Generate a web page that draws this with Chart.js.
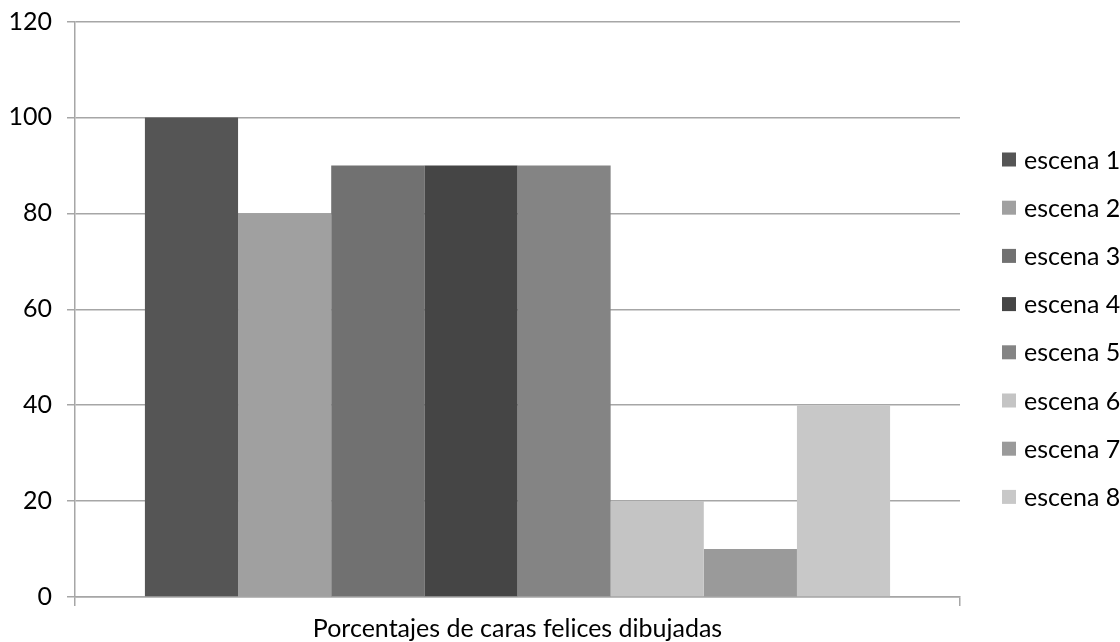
<!DOCTYPE html>
<html>
<head>
<meta charset="utf-8">
<script src="https://cdn.jsdelivr.net/npm/chart.js@4"></script>
<style>
  html, body { margin: 0; padding: 0; background: #ffffff; }
  #wrap { width: 1120px; height: 642px; position: relative; }
</style>
</head>
<body>
<div id="wrap"><canvas id="chart" width="1120" height="642"></canvas></div>
<script>
// Data
const categories = ['Porcentajes de caras felices dibujadas'];
const seriesNames = ['escena 1', 'escena 2', 'escena 3', 'escena 4', 'escena 5', 'escena 6', 'escena 7', 'escena 8'];
const seriesValues = [100, 80, 90, 90, 90, 20, 10, 40];
const seriesColors = ['#555555', '#a0a0a0', '#717171', '#454545', '#848484', '#c4c4c4', '#9a9a9a', '#c8c8c8'];
const yTicks = [0, 20, 40, 60, 80, 100, 120];

const FONT = 'Lato, "Open Sans", sans-serif';
const FONT_SIZE = 25;
const GRID = '#a6a6a6';

const datasets = seriesNames.map((name, i) => ({
  label: name,
  data: [seriesValues[i]],
  backgroundColor: seriesColors[i],
  borderWidth: 0,
  categoryPercentage: 0.842,
  barPercentage: 1.0
}));

// Legend drawn at the right of the plot, one row per scene
const sideLegend = {
  id: 'sideLegend',
  afterDraw(chart) {
    const ctx = chart.ctx;
    ctx.save();
    ctx.font = FONT_SIZE + 'px ' + FONT;
    ctx.textBaseline = 'middle';
    ctx.textAlign = 'left';
    chart.data.datasets.forEach((ds, i) => {
      const cy = 159.5 + i * 48.2;
      ctx.fillStyle = ds.backgroundColor;
      ctx.fillRect(1002, cy - 7, 14, 14);
      ctx.fillStyle = '#000000';
      ctx.fillText(ds.label, 1024, cy + 1);
    });
    ctx.restore();
  }
};

new Chart(document.getElementById('chart'), {
  type: 'bar',
  data: { labels: categories, datasets },
  plugins: [sideLegend],
  options: {
    responsive: false,
    animation: false,
    layout: { padding: { left: 0, right: 160, top: 21.5, bottom: 0 } },
    plugins: {
      legend: { display: false },
      tooltip: { enabled: false }
    },
    scales: {
      x: {
        offset: true,
        grid: {
          display: true,
          offset: true,
          drawOnChartArea: false,
          drawTicks: true,
          tickLength: 9,
          color: GRID,
          lineWidth: 1.5
        },
        border: { display: true, color: GRID, width: 1.5 },
        ticks: {
          color: '#000000',
          font: { family: FONT, size: FONT_SIZE },
          padding: 8,
          maxRotation: 0
        },
        afterFit(scale) { scale.height = 45; }
      },
      y: {
        min: 0,
        max: 120,
        afterBuildTicks(scale) { scale.ticks = yTicks.map(v => ({ value: v })); },
        grid: {
          color: GRID,
          lineWidth: 1.5,
          tickLength: 8,
          drawTicks: true
        },
        border: { display: true, color: GRID, width: 1.5 },
        ticks: {
          color: '#000000',
          font: { family: FONT, size: FONT_SIZE },
          padding: 15
        },
        afterFit(scale) {
          scale.width = 75;
          scale.paddingTop = 0;
          scale.paddingBottom = 0;
        }
      }
    }
  }
});
</script>
</body>
</html>
